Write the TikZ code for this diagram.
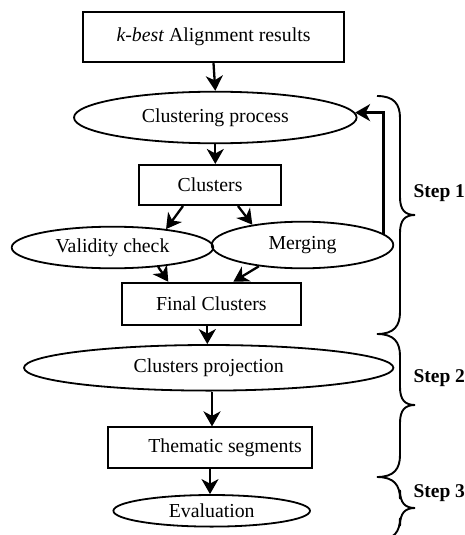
\documentclass[tikz,border=0pt]{standalone}
\usepackage{fontspec}
\setmainfont{Liberation Serif}
\usetikzlibrary{shapes.geometric,arrows.meta}
\begin{document}
\begin{tikzpicture}[x=1pt,y=-1pt,
  every node/.style={font=\fontsize{19.8}{22}\selectfont},
  boxn/.style={draw,line width=1.8pt,rectangle,inner sep=0pt},
  elln/.style={draw,line width=1.8pt,ellipse,inner sep=0pt},
  arr/.style={line width=2.3pt,-{Stealth[length=15pt,width=17pt,inset=4.5pt]}},
  bracel/.style={line width=1.9pt},
  steplbl/.style={font=\fontsize{19.5}{22}\selectfont\bfseries,anchor=west}]
\useasboundingbox (0,0) rectangle (465,535);
\clip (0,0) rectangle (465,535);
\node[boxn,minimum width=261.6pt,minimum height=50.6pt] (top) at (213.5,37) {\textit{k-best} Alignment results};
\node[elln,minimum width=282.6pt,minimum height=51.6pt] (clust) at (215.3,117.5) {Clustering process};
\node[boxn,minimum width=141.7pt,minimum height=40.3pt] (clusters) at (210,185) {Clusters};
\node[elln,minimum width=201.6pt,minimum height=41.6pt] (valid) at (112.5,247.5) {Validity check};
\node[elln,minimum width=181.6pt,minimum height=46.6pt] (merge) at (302.5,245) {Merging};
\node[boxn,minimum width=179.3pt,minimum height=42.3pt] (final) at (211.3,303.8) {Final Clusters};
\node[elln,minimum width=369.4pt,minimum height=45.6pt] (proj) at (208.7,367.8) {Clusters projection};
\node[boxn,minimum width=203.4pt,minimum height=40.4pt] (them) at (210,447.5) {\hspace{30pt}Thematic segments};
\node[elln,minimum width=196.6pt,minimum height=31.6pt] (eval) at (211.7,510.8) {Evaluation};
% connectors
\draw[arr] (top.south) -- (clust.north);
\draw[arr] (clust.south) -- (clust.south |- clusters.north);
\draw[arr] ([xshift=-27pt]clusters.south) -- (valid.19);
\draw[arr] ([xshift=28pt]clusters.south) -- (merge.158);
\draw[arr] (valid.-23) -- ([xshift=-43pt]final.north);
\draw[arr] (merge.206) -- ([xshift=22pt]final.north);
\draw[arr] (merge.8) |- (clust.2);
\draw[arr] ([xshift=-4pt]final.south) -- ([xshift=-4pt]final.south |- proj.north);
\draw[arr] ([xshift=2pt]them.north |- proj.south) -- ([xshift=2pt]them.north);
\draw[arr] (them.south) -- (them.south |- eval.north);
% braces
\foreach \yt/\ym/\yb in {96/215/334, 334/405/477, 477/508/540}{
  \draw[bracel] (377,\yt) .. controls (394,\yt) and (400,\yt+8) .. (400,\yt+22)
    -- (400,\ym-18) .. controls (400,\ym-5) and (405,\ym) .. (415,\ym)
    .. controls (405,\ym) and (400,\ym+5) .. (400,\ym+18)
    -- (400,\yb-22) .. controls (400,\yb-8) and (394,\yb) .. (377,\yb);
}
\node[steplbl] (s1) at (410,193) {Step 1};
\node[steplbl] (s2) at (410,378) {Step 2};
\node[steplbl] (s3) at (410,493) {Step 3};
\end{tikzpicture}
\end{document}
